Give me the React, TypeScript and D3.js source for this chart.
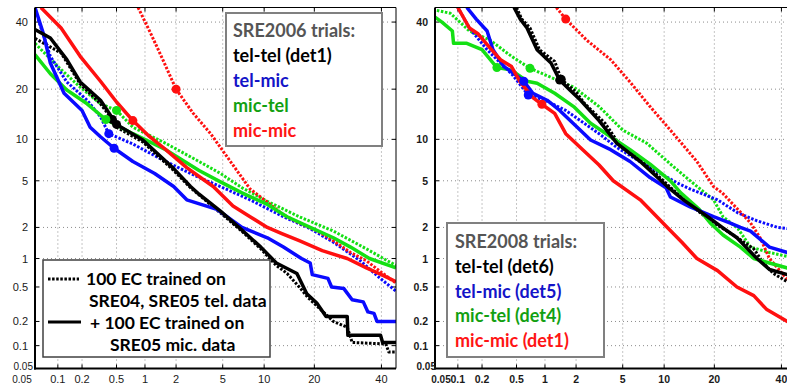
import React from "react";
import * as d3 from "d3";

type Pt = [number, number];

// Shared probability ticks (percent) for both axes
const tickValues = [0.05, 0.1, 0.2, 0.5, 1, 2, 5, 10, 20, 40];
const tickLabels = ["0.05", "0.1", "0.2", "0.5", "1", "2", "5", "10", "20", "40"];

// ---- SRE2006 trials: [false alarm %, miss %] ----
// dotted = 100 EC trained on SRE04/SRE05 tel. data, solid = + 100 EC trained on SRE05 mic. data
const s06TelTelBase: Pt[] = [[0.05, 34.6], [0.11, 30], [0.19, 21.3], [0.33, 16.6], [0.45, 13.4], [0.5, 12], [0.95, 9.6], [1.9, 6], [2.7, 4.4], [4.8, 2.7], [6.8, 1.9], [9.5, 1.25], [12, 0.85], [14, 0.7], [16.5, 0.5], [18.5, 0.38], [20.8, 0.3], [25, 0.2], [29, 0.17], [30.5, 0.11], [41.5, 0.105], [42.5, 0.083], [45, 0.083]];
const s06TelTelExt: Pt[] = [[0.05, 37.5], [0.08, 34.7], [0.13, 28], [0.19, 21.8], [0.33, 17.4], [0.5, 12.5], [0.95, 9.9], [1.9, 6.2], [2.7, 4.5], [3.2, 3.9], [4.8, 2.8], [6.8, 1.95], [9.5, 1.3], [12, 0.9], [16, 0.7], [18.2, 0.42], [20.6, 0.33], [23, 0.23], [29, 0.23], [29.2, 0.135], [39.7, 0.135], [40.4, 0.11], [45, 0.11]];
const s06TelMicBase: Pt[] = [[0.055, 41], [0.08, 29], [0.13, 21.8], [0.23, 17.4], [0.33, 13.9], [0.41, 10.9], [0.75, 9.3], [1.6, 7], [3.2, 5.3], [4.8, 4.5], [8, 3.5], [13.3, 2.5], [19, 1.95], [25, 1.45], [33, 0.95], [39.6, 0.62], [45, 0.45]];
const s06TelMicExt: Pt[] = [[0.05, 45], [0.065, 36], [0.08, 27], [0.12, 19], [0.2, 15.2], [0.25, 12], [0.33, 10.4], [0.47, 8.7], [0.75, 7], [1.25, 5.7], [1.9, 4.5], [2.5, 3.5], [4.5, 2.9], [7, 2.0], [10.5, 1.6], [13.3, 1.3], [17, 1.0], [19, 0.9], [19.5, 0.68], [23.5, 0.62], [24.5, 0.5], [28, 0.48], [30.5, 0.36], [34, 0.34], [35.5, 0.26], [37.5, 0.25], [38.5, 0.2], [45, 0.2]];
const s06MicTelBase: Pt[] = [[0.05, 33], [0.1, 26], [0.19, 20.5], [0.33, 16.6], [0.5, 15.2], [0.75, 12], [1.6, 9.4], [3.2, 7.0], [4.8, 5.7], [7, 4.4], [10.5, 3.4], [16.5, 2.5], [25, 1.85], [35, 1.25], [42, 0.95], [45, 0.85]];
const s06MicTelExt: Pt[] = [[0.05, 29.5], [0.08, 24], [0.13, 19.8], [0.23, 16.6], [0.38, 13.4], [0.75, 10.9], [1.6, 8.5], [3.2, 6.0], [4.8, 4.9], [7, 4], [10.5, 3.2], [14, 2.5], [19, 2.0], [25, 1.6], [30, 1.3], [36, 1.0], [45, 0.8]];
const s06MicMicBase: Pt[] = [[0.85, 45], [1.15, 36], [1.5, 28], [2.0, 20], [2.85, 14.6], [4, 10.9], [4.8, 8.8], [8, 4.3], [10, 3.5], [13.3, 2.6], [16.5, 2.2], [20.8, 1.85], [25, 1.5], [30, 1.15], [35, 0.95], [40.5, 0.7], [45, 0.55]];
const s06MicMicExt: Pt[] = [[0.06, 45], [0.11, 38], [0.19, 29], [0.33, 22], [0.5, 17], [0.75, 13.2], [1.1, 10.5], [1.6, 8.5], [2.5, 6.3], [3.2, 5.4], [4.2, 4.5], [6, 3.1], [8, 2.5], [10.5, 2.0], [13, 1.75], [16.5, 1.5], [22, 1.2], [29, 1.0], [35, 0.8], [40, 0.68], [45, 0.57]];

// operating points marked on the SRE2006 curves
const s06TelTelDots: Pt[] = [[0.45, 13.4], [0.5, 12.5]];
const s06TelMicDots: Pt[] = [[0.41, 10.9], [0.47, 8.7]];
const s06MicTelDots: Pt[] = [[0.5, 15.2], [0.38, 13.4]];
const s06MicMicDots: Pt[] = [[2.0, 20], [0.75, 13.2]];

// ---- SRE2008 trials ----
const s08TelTelBase: Pt[] = [[0.5, 45], [0.57, 41], [0.7, 38], [0.88, 31], [1.25, 27.5], [1.45, 22.5], [2.0, 19.3], [2.4, 16.6], [3.6, 12.7], [4.8, 9], [7.4, 6.7], [11.3, 4.3], [14.2, 3.3], [19, 2.3], [25, 1.7], [31, 1.25], [34, 0.9], [37.3, 0.7], [42, 0.57], [45, 0.52]];
const s08TelTelExt: Pt[] = [[0.47, 45], [0.55, 41], [0.65, 38], [0.83, 31], [1.15, 27], [1.4, 22.3], [1.75, 19.8], [2.2, 17.4], [3.2, 13.2], [4.5, 9.4], [6.8, 7], [10.5, 4.5], [13.3, 3.5], [18.4, 2.5], [22, 2.0], [26, 1.6], [32, 1.0], [36, 0.77], [42, 0.68], [45, 0.65]];
const s08TelMicBase: Pt[] = [[0.1, 45], [0.14, 38], [0.23, 31], [0.44, 24], [0.67, 18.6], [1, 17.4], [1.6, 15.2], [3.2, 10.9], [4.5, 8.8], [8, 6.3], [12.2, 4.8], [14.6, 4.3], [20.8, 3.5], [26.3, 2.7], [32, 2.3], [38.7, 2.0], [42, 1.95], [45, 1.9]];
const s08TelMicExt: Pt[] = [[0.13, 45], [0.17, 41], [0.23, 37], [0.27, 31], [0.36, 26], [0.47, 24], [0.6, 22], [0.75, 19], [1.05, 17.4], [1.4, 15.2], [2.05, 12], [2.7, 9.9], [4, 8.5], [5.7, 7], [8, 5.3], [10.3, 4.4], [11, 3.7], [14.6, 3.05], [19.8, 2.5], [24, 2.2], [27, 2.0], [30, 1.85], [36, 1.3], [42, 1.15], [45, 1.12]];
const s08MicTelBase: Pt[] = [[0.053, 44], [0.08, 43], [0.14, 37], [0.25, 34], [0.44, 29], [0.7, 25.5], [1.15, 23], [1.9, 20.5], [3.2, 16], [5, 11.5], [7.6, 9.4], [11, 6.7], [14.6, 5], [19.8, 3.5], [22.2, 2.5], [26.3, 1.95], [30, 1.3], [36, 1.15], [42, 1.05], [45, 1.0]];
const s08MicTelExt: Pt[] = [[0.05, 41.7], [0.062, 40], [0.085, 37], [0.088, 33], [0.13, 33], [0.2, 31], [0.3, 25.7], [0.44, 25], [0.65, 22], [0.83, 21.5], [1.25, 19], [1.9, 16], [2.7, 12.7], [4, 10.4], [5.7, 8.5], [8, 6.7], [11, 5], [12.8, 4], [16.5, 2.9], [19, 2.2], [22.2, 1.7], [27, 1.3], [31, 1.0], [36, 0.9], [42, 0.8], [45, 0.78]];
const s08MicMicBase: Pt[] = [[1.3, 45], [1.6, 41], [2.5, 34], [4.0, 28], [5.7, 21.8], [8, 16], [11.5, 10.9], [16, 7], [19.8, 4.5], [22, 4.0], [30, 2.2], [33, 1.6], [36, 1.0], [38.7, 0.8], [42, 0.6], [45, 0.5]];
const s08MicMicExt: Pt[] = [[0.1, 45], [0.14, 38], [0.18, 36], [0.25, 31.5], [0.33, 28], [0.44, 26], [0.55, 21.8], [0.75, 18], [0.93, 16.5], [1.25, 14.6], [1.6, 10.9], [2.3, 8.5], [3.2, 6.6], [4.2, 5], [6.8, 3.5], [10.5, 2.0], [13, 1.45], [16, 1.0], [20.8, 0.75], [26, 0.5], [31, 0.4], [35, 0.28], [42, 0.2], [45, 0.19]];

const s08TelTelDots: Pt[] = [[1.45, 22.5], [1.4, 22.3]];
const s08TelMicDots: Pt[] = [[0.67, 18.6], [0.6, 22]];
const s08MicTelDots: Pt[] = [[0.7, 25.5], [0.3, 25.7]];
const s08MicMicDots: Pt[] = [[1.6, 41], [0.93, 16.5]];

const lineColors = { tt: "#000000", tm: "#0a0aff", mt: "#14e014", mm: "#ff1010" };

// inverse of the standard normal CDF (Acklam's rational approximation)
function probit(p: number): number {
  const a = [-39.69683028665376, 220.9460984245205, -275.9285104469687, 138.357751867269, -30.66479806614716, 2.506628277459239];
  const b = [-54.47609879822406, 161.5858368580409, -155.6989798598866, 66.80131188771972, -13.28068155288572];
  const c = [-0.007784894002430293, -0.3223964580411365, -2.400758277161838, -2.549732539343734, 4.374664141464968, 2.938163982698783];
  const d = [0.007784695709041462, 0.3224671290700398, 2.445134137142996, 3.754408661907416];
  const pl = 0.02425;
  if (p < pl) {
    const q = Math.sqrt(-2 * Math.log(p));
    return (((((c[0] * q + c[1]) * q + c[2]) * q + c[3]) * q + c[4]) * q + c[5]) / ((((d[0] * q + d[1]) * q + d[2]) * q + d[3]) * q + 1);
  }
  if (p <= 1 - pl) {
    const q = p - 0.5;
    const r = q * q;
    return ((((((a[0] * r + a[1]) * r + a[2]) * r + a[3]) * r + a[4]) * r + a[5]) * q) / (((((b[0] * r + b[1]) * r + b[2]) * r + b[3]) * r + b[4]) * r + 1);
  }
  const q = Math.sqrt(-2 * Math.log(1 - p));
  return -(((((c[0] * q + c[1]) * q + c[2]) * q + c[3]) * q + c[4]) * q + c[5]) / ((((d[0] * q + d[1]) * q + d[2]) * q + d[3]) * q + 1);
}

const TOP = 7.5;
const SIZE = 361;
const BOTTOM = TOP + SIZE;
const DOMAIN: [number, number] = [probit(0.0005), probit(0.45)];

interface Curve { data: Pt[]; color: string; dotted: boolean; dot: Pt }

interface PanelProps {
  id: string;
  left: number;
  bold: boolean;
  curves: Curve[];
  firstXLabelDx: number;
  firstYLabelDx: number;
  children?: React.ReactNode;
}

function Panel({ id, left, bold, curves, firstXLabelDx, firstYLabelDx, children }: PanelProps) {
  const xLin = d3.scaleLinear().domain(DOMAIN).range([left, left + SIZE]);
  const yLin = d3.scaleLinear().domain(DOMAIN).range([BOTTOM, TOP]);
  const xs = (v: number) => xLin(probit(v / 100));
  const ys = (v: number) => yLin(probit(v / 100));
  const line = d3.line<Pt>().x((d) => xs(d[0])).y((d) => ys(d[1]));
  const right = left + SIZE;
  const baseSize = bold ? 10.5 : 11;
  const labelStyle = { fontFamily: "'Liberation Sans', Arial, sans-serif", fontSize: baseSize, fontWeight: bold ? 700 : 400, fill: "#1a1a1a" } as const;
  // the two corner labels sit stacked, so they are set a touch smaller
  const cornerStyle = { ...labelStyle, fontSize: 10 } as const;
  const ordered = [...curves.filter((c) => c.dotted), ...curves.filter((c) => !c.dotted)];
  return (
    <g>
      <defs>
        <clipPath id={id}>
          <rect x={left} y={TOP} width={SIZE} height={SIZE} />
        </clipPath>
      </defs>
      {/* dotted grid */}
      <g stroke="#8c8c8c" strokeWidth={1} strokeDasharray="1 3">
        {tickValues.slice(1).map((t) => (
          <line key={"gx" + t} x1={xs(t)} x2={xs(t)} y1={TOP} y2={BOTTOM} />
        ))}
        {tickValues.slice(1).map((t) => (
          <line key={"gy" + t} x1={left} x2={right} y1={ys(t)} y2={ys(t)} />
        ))}
      </g>
      {/* inward tick marks */}
      <g stroke="#000" strokeWidth={1}>
        {tickValues.slice(1).map((t) => (
          <g key={"t" + t}>
            <line x1={xs(t)} x2={xs(t)} y1={TOP} y2={TOP + 4} />
            <line x1={xs(t)} x2={xs(t)} y1={BOTTOM} y2={BOTTOM - 4} />
            <line x1={left} x2={left + 4} y1={ys(t)} y2={ys(t)} />
            <line x1={right} x2={right - 4} y1={ys(t)} y2={ys(t)} />
          </g>
        ))}
      </g>
      <g clipPath={`url(#${id})`}>
        {ordered.map((c, i) => (
          <path
            key={"c" + i}
            d={line(c.data) || ""}
            fill="none"
            stroke={c.color}
            strokeWidth={c.dotted ? 3 : 3.5}
            strokeDasharray={c.dotted ? "2.5 1.6" : undefined}
            strokeLinejoin="round"
          />
        ))}
        {ordered.map((c, i) => (
          <circle key={"d" + i} cx={xs(c.dot[0])} cy={ys(c.dot[1])} r={4.5} fill={c.color} />
        ))}
      </g>
      {/* frame */}
      <line x1={left} x2={right} y1={TOP} y2={TOP} stroke="#000" strokeWidth={1} />
      <line x1={right} x2={right} y1={TOP} y2={BOTTOM} stroke="#000" strokeWidth={1} />
      <line x1={left} x2={left} y1={TOP} y2={BOTTOM + 1} stroke="#000" strokeWidth={2} />
      <line x1={left - 1} x2={right} y1={BOTTOM} y2={BOTTOM} stroke="#000" strokeWidth={2} />
      {/* axis labels */}
      {tickValues.map((t, i) => (
        <text
          key={"yl" + t}
          x={left - 7 + (i === 0 ? firstYLabelDx : 0)}
          y={ys(t) + (i === 0 ? 1.8 : 4)}
          textAnchor="end"
          style={i === 0 ? cornerStyle : labelStyle}
        >
          {tickLabels[i]}
        </text>
      ))}
      {tickValues.map((t, i) => (
        <text
          key={"xl" + t}
          x={xs(t) + (i === 0 ? firstXLabelDx : 0)}
          y={382.5}
          textAnchor="middle"
          style={i === 0 ? cornerStyle : labelStyle}
        >
          {tickLabels[i]}
        </text>
      ))}
      {children}
    </g>
  );
}

const legendFont = { fontFamily: "Lato, 'Open Sans', sans-serif", fontWeight: 700, fontSize: 18 } as const;
const noteFont = { fontFamily: "Lato, 'Open Sans', sans-serif", fontWeight: 700, fontSize: 17.5 } as const;
const textColors = { head: "#555555", tt: "#000000", tm: "#1414c8", mt: "#12a012", mm: "#ff1414" };

export default function App() {
  const s06: Curve[] = [
    { data: s06MicTelBase, color: lineColors.mt, dotted: true, dot: s06MicTelDots[0] },
    { data: s06TelMicBase, color: lineColors.tm, dotted: true, dot: s06TelMicDots[0] },
    { data: s06MicMicBase, color: lineColors.mm, dotted: true, dot: s06MicMicDots[0] },
    { data: s06TelTelBase, color: lineColors.tt, dotted: true, dot: s06TelTelDots[0] },
    { data: s06MicTelExt, color: lineColors.mt, dotted: false, dot: s06MicTelDots[1] },
    { data: s06TelMicExt, color: lineColors.tm, dotted: false, dot: s06TelMicDots[1] },
    { data: s06MicMicExt, color: lineColors.mm, dotted: false, dot: s06MicMicDots[1] },
    { data: s06TelTelExt, color: lineColors.tt, dotted: false, dot: s06TelTelDots[1] },
  ];
  const s08: Curve[] = [
    { data: s08MicTelBase, color: lineColors.mt, dotted: true, dot: s08MicTelDots[0] },
    { data: s08TelMicBase, color: lineColors.tm, dotted: true, dot: s08TelMicDots[0] },
    { data: s08MicMicBase, color: lineColors.mm, dotted: true, dot: s08MicMicDots[0] },
    { data: s08TelTelBase, color: lineColors.tt, dotted: true, dot: s08TelTelDots[0] },
    { data: s08MicTelExt, color: lineColors.mt, dotted: false, dot: s08MicTelDots[1] },
    { data: s08TelMicExt, color: lineColors.tm, dotted: false, dot: s08TelMicDots[1] },
    { data: s08MicMicExt, color: lineColors.mm, dotted: false, dot: s08MicMicDots[1] },
    { data: s08TelTelExt, color: lineColors.tt, dotted: false, dot: s08TelTelDots[1] },
  ];

  return (
    <svg
      width={787}
      height={383}
      viewBox="0 0 787 383"
      style={{ position: "absolute", left: 0, top: 0, background: "#fff" }}
    >
      <rect x={0} y={0} width={787} height={383} fill="#fff" />
      <Panel id="clip06" left={35} bold={false} curves={s06} firstXLabelDx={-13} firstYLabelDx={5}>
        <rect x={226} y={13} width={156} height={133} fill="#fff" stroke="#808080" strokeWidth={2} />
        <g style={legendFont}>
          <text x={233} y={37} fill={textColors.head}>SRE2006 trials:</text>
          <text x={233} y={62} fill={textColors.tt}>tel-tel (det1)</text>
          <text x={233} y={87} fill={textColors.tm}>tel-mic</text>
          <text x={233} y={112} fill={textColors.mt}>mic-tel</text>
          <text x={233} y={137} fill={textColors.mm}>mic-mic</text>
        </g>
        <rect x={43} y={260} width={227} height={97} fill="#fff" stroke="#404040" strokeWidth={1.5} />
        <line x1={48} x2={79} y1={279} y2={279} stroke="#000" strokeWidth={3} strokeDasharray="2.5 1.6" />
        <line x1={48} x2={81} y1={322} y2={322} stroke="#000" strokeWidth={3} />
        <g style={noteFont} fill="#000">
          <text x={86} y={285}>100 EC trained on</text>
          <text x={89} y={307}>SRE04, SRE05 tel. data</text>
          <text x={90} y={329}>+ 100 EC trained on</text>
          <text x={110} y={351}>SRE05 mic. data</text>
        </g>
      </Panel>
      <Panel id="clip08" left={435} bold={true} curves={s08} firstXLabelDx={6} firstYLabelDx={8}>
        <rect x={447} y={223} width={157} height={134} fill="#fff" stroke="#808080" strokeWidth={2} />
        <g style={legendFont}>
          <text x={455} y={248} fill={textColors.head}>SRE2008 trials:</text>
          <text x={455} y={273} fill={textColors.tt}>tel-tel (det6)</text>
          <text x={455} y={298} fill={textColors.tm}>tel-mic (det5)</text>
          <text x={455} y={322} fill={textColors.mt}>mic-tel (det4)</text>
          <text x={455} y={347} fill={textColors.mm}>mic-mic (det1)</text>
        </g>
      </Panel>
    </svg>
  );
}
